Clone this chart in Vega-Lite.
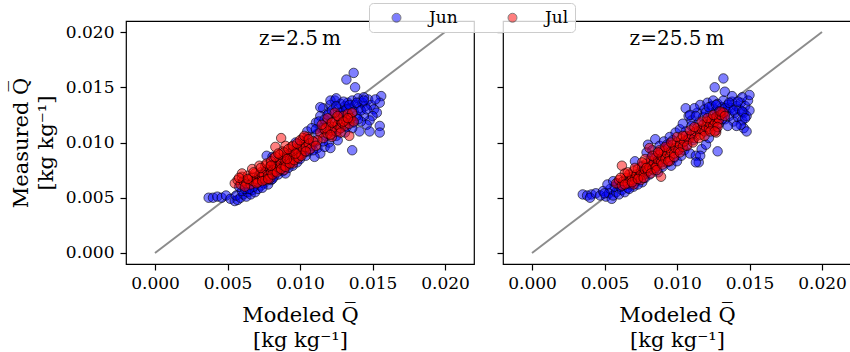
{
  "$schema": "https://vega.github.io/schema/vega-lite/v6.json",
  "padding": {"left": 9, "top": 2, "right": 0, "bottom": 0},
  "background": "white",
  "config": {
    "font": "DejaVu Serif",
    "view": {"stroke": "black", "strokeWidth": 1.2},
    "axis": {
      "grid": false, "domain": false, "tickColor": "black", "tickSize": 6, "tickWidth": 1.2,
      "labelFont": "DejaVu Serif", "labelFontSize": 17, "labelColor": "black",
      "titleFont": "DejaVu Serif", "titleFontSize": 21, "titleFontWeight": "normal", "titleColor": "black",
      "titleLineHeight": 25
    }
  },
  "datasets": {
    "pts": [
      {"p":"a","m":"Jun","x":0.0037,"y":0.0050},{"p":"a","m":"Jun","x":0.0040,"y":0.0050},{"p":"a","m":"Jun","x":0.0043,"y":0.0051},{"p":"a","m":"Jun","x":0.0046,"y":0.0050},{"p":"a","m":"Jun","x":0.0049,"y":0.0052},{"p":"a","m":"Jun","x":0.0052,"y":0.0049},{"p":"a","m":"Jun","x":0.0055,"y":0.0047},{"p":"a","m":"Jun","x":0.0057,"y":0.0048},{"p":"a","m":"Jun","x":0.0056,"y":0.0052},{"p":"a","m":"Jun","x":0.0059,"y":0.0050},{"p":"a","m":"Jun","x":0.0061,"y":0.0053},{"p":"a","m":"Jun","x":0.0063,"y":0.0051},{"p":"a","m":"Jun","x":0.0060,"y":0.0056},{"p":"a","m":"Jun","x":0.0064,"y":0.0055},{"p":"a","m":"Jun","x":0.0066,"y":0.0053},{"p":"a","m":"Jun","x":0.0058,"y":0.0060},{"p":"a","m":"Jun","x":0.0062,"y":0.0058},{"p":"a","m":"Jun","x":0.0067,"y":0.0057},{"p":"a","m":"Jun","x":0.0069,"y":0.0055},{"p":"a","m":"Jun","x":0.0071,"y":0.0058},
      {"p":"a","m":"Jun","x":0.0073,"y":0.0061},{"p":"a","m":"Jun","x":0.0075,"y":0.0063},{"p":"a","m":"Jun","x":0.0078,"y":0.0062},{"p":"a","m":"Jun","x":0.0080,"y":0.0066},{"p":"a","m":"Jun","x":0.0082,"y":0.0069},{"p":"a","m":"Jun","x":0.0079,"y":0.0071},{"p":"a","m":"Jun","x":0.0085,"y":0.0071},{"p":"a","m":"Jun","x":0.0088,"y":0.0074},{"p":"a","m":"Jun","x":0.0090,"y":0.0072},{"p":"a","m":"Jun","x":0.0087,"y":0.0078},{"p":"a","m":"Jun","x":0.0092,"y":0.0077},{"p":"a","m":"Jun","x":0.0095,"y":0.0079},{"p":"a","m":"Jun","x":0.0098,"y":0.0082},{"p":"a","m":"Jun","x":0.0094,"y":0.0084},{"p":"a","m":"Jun","x":0.0100,"y":0.0085},{"p":"a","m":"Jun","x":0.0076,"y":0.0074},{"p":"a","m":"Jun","x":0.0072,"y":0.0068},{"p":"a","m":"Jun","x":0.0083,"y":0.0080},{"p":"a","m":"Jun","x":0.0089,"y":0.0086},{"p":"a","m":"Jun","x":0.0097,"y":0.0092},{"p":"a","m":"Jun","x":0.0093,"y":0.0090},{"p":"a","m":"Jun","x":0.0102,"y":0.0095},{"p":"a","m":"Jun","x":0.0104,"y":0.0088},{"p":"a","m":"Jun","x":0.0106,"y":0.0092},{"p":"a","m":"Jun","x":0.0101,"y":0.0101},{"p":"a","m":"Jun","x":0.0108,"y":0.0097},{"p":"a","m":"Jun","x":0.0105,"y":0.0103},{"p":"a","m":"Jun","x":0.0097,"y":0.0100},{"p":"a","m":"Jun","x":0.0077,"y":0.0088},{"p":"a","m":"Jun","x":0.0081,"y":0.0087},
      {"p":"a","m":"Jun","x":0.0110,"y":0.0100},{"p":"a","m":"Jun","x":0.0112,"y":0.0095},{"p":"a","m":"Jun","x":0.0114,"y":0.0090},{"p":"a","m":"Jun","x":0.0110,"y":0.0087},{"p":"a","m":"Jun","x":0.0117,"y":0.0096},{"p":"a","m":"Jun","x":0.0120,"y":0.0100},{"p":"a","m":"Jun","x":0.0118,"y":0.0106},{"p":"a","m":"Jun","x":0.0112,"y":0.0108},{"p":"a","m":"Jun","x":0.0115,"y":0.0113},{"p":"a","m":"Jun","x":0.0111,"y":0.0118},{"p":"a","m":"Jun","x":0.0114,"y":0.0124},{"p":"a","m":"Jun","x":0.0116,"y":0.0131},{"p":"a","m":"Jun","x":0.0120,"y":0.0127},{"p":"a","m":"Jun","x":0.0121,"y":0.0134},{"p":"a","m":"Jun","x":0.0124,"y":0.0138},{"p":"a","m":"Jun","x":0.0126,"y":0.0130},{"p":"a","m":"Jun","x":0.0128,"y":0.0135},{"p":"a","m":"Jun","x":0.0130,"y":0.0128},{"p":"a","m":"Jun","x":0.0131,"y":0.0133},{"p":"a","m":"Jun","x":0.0133,"y":0.0136},{"p":"a","m":"Jun","x":0.0135,"y":0.0131},{"p":"a","m":"Jun","x":0.0136,"y":0.0138},{"p":"a","m":"Jun","x":0.0138,"y":0.0134},{"p":"a","m":"Jun","x":0.0140,"y":0.0140},{"p":"a","m":"Jun","x":0.0141,"y":0.0131},{"p":"a","m":"Jun","x":0.0143,"y":0.0136},{"p":"a","m":"Jun","x":0.0145,"y":0.0133},{"p":"a","m":"Jun","x":0.0147,"y":0.0139},{"p":"a","m":"Jun","x":0.0149,"y":0.0134},{"p":"a","m":"Jun","x":0.0151,"y":0.0130},{"p":"a","m":"Jun","x":0.0153,"y":0.0127},{"p":"a","m":"Jun","x":0.0150,"y":0.0124},{"p":"a","m":"Jun","x":0.0148,"y":0.0120},{"p":"a","m":"Jun","x":0.0144,"y":0.0124},{"p":"a","m":"Jun","x":0.0146,"y":0.0116},{"p":"a","m":"Jun","x":0.0142,"y":0.0119},{"p":"a","m":"Jun","x":0.0139,"y":0.0124},{"p":"a","m":"Jun","x":0.0137,"y":0.0118},{"p":"a","m":"Jun","x":0.0134,"y":0.0122},{"p":"a","m":"Jun","x":0.0132,"y":0.0114},{"p":"a","m":"Jun","x":0.0129,"y":0.0118},{"p":"a","m":"Jun","x":0.0127,"y":0.0112},{"p":"a","m":"Jun","x":0.0125,"y":0.0106},{"p":"a","m":"Jun","x":0.0122,"y":0.0110},{"p":"a","m":"Jun","x":0.0123,"y":0.0119},{"p":"a","m":"Jun","x":0.0127,"y":0.0124},{"p":"a","m":"Jun","x":0.0118,"y":0.0118},
      {"p":"a","m":"Jun","x":0.0137,"y":0.0163},{"p":"a","m":"Jun","x":0.0132,"y":0.0157},{"p":"a","m":"Jun","x":0.0138,"y":0.0150},{"p":"a","m":"Jun","x":0.0136,"y":0.0093},{"p":"a","m":"Jun","x":0.0156,"y":0.0142},{"p":"a","m":"Jun","x":0.0155,"y":0.0136},{"p":"a","m":"Jun","x":0.0155,"y":0.0115},{"p":"a","m":"Jun","x":0.0155,"y":0.0109},{"p":"a","m":"Jun","x":0.0148,"y":0.0110},{"p":"a","m":"Jun","x":0.0141,"y":0.0110},{"p":"a","m":"Jun","x":0.0114,"y":0.0132},{"p":"a","m":"Jun","x":0.0121,"y":0.0138},{"p":"a","m":"Jun","x":0.0125,"y":0.0140},{"p":"a","m":"Jun","x":0.0144,"y":0.0141},{"p":"a","m":"Jun","x":0.0152,"y":0.0139},
      {"p":"a","m":"Jun","x":0.0105,"y":0.0110},{"p":"a","m":"Jun","x":0.0108,"y":0.0113},{"p":"a","m":"Jun","x":0.0111,"y":0.0112},{"p":"a","m":"Jun","x":0.0113,"y":0.0119},{"p":"a","m":"Jun","x":0.0117,"y":0.0121},{"p":"a","m":"Jun","x":0.0119,"y":0.0125},{"p":"a","m":"Jun","x":0.0122,"y":0.0129},{"p":"a","m":"Jun","x":0.0125,"y":0.0133},{"p":"a","m":"Jun","x":0.0128,"y":0.0127},{"p":"a","m":"Jun","x":0.0130,"y":0.0137},{"p":"a","m":"Jun","x":0.0132,"y":0.0130},{"p":"a","m":"Jun","x":0.0134,"y":0.0134},{"p":"a","m":"Jun","x":0.0137,"y":0.0128},{"p":"a","m":"Jun","x":0.0139,"y":0.0136},{"p":"a","m":"Jun","x":0.0142,"y":0.0129},{"p":"a","m":"Jun","x":0.0144,"y":0.0138},{"p":"a","m":"Jun","x":0.0146,"y":0.0130},{"p":"a","m":"Jun","x":0.0140,"y":0.0121},{"p":"a","m":"Jun","x":0.0136,"y":0.0113},{"p":"a","m":"Jun","x":0.0131,"y":0.0109},{"p":"a","m":"Jun","x":0.0126,"y":0.0102},{"p":"a","m":"Jun","x":0.0121,"y":0.0095},{"p":"a","m":"Jun","x":0.0116,"y":0.0101},{"p":"a","m":"Jun","x":0.0109,"y":0.0093},{"p":"a","m":"Jun","x":0.0103,"y":0.0091},{"p":"a","m":"Jun","x":0.0099,"y":0.0088},{"p":"a","m":"Jun","x":0.0091,"y":0.0080},{"p":"a","m":"Jun","x":0.0086,"y":0.0075},{"p":"a","m":"Jun","x":0.0081,"y":0.0067},{"p":"a","m":"Jun","x":0.0074,"y":0.0059},{"p":"a","m":"Jun","x":0.0068,"y":0.0060},{"p":"a","m":"Jun","x":0.0065,"y":0.0058},
      {"p":"b","m":"Jun","x":0.0035,"y":0.0053},{"p":"b","m":"Jun","x":0.0038,"y":0.0052},{"p":"b","m":"Jun","x":0.0041,"y":0.0053},{"p":"b","m":"Jun","x":0.0040,"y":0.0050},{"p":"b","m":"Jun","x":0.0044,"y":0.0054},{"p":"b","m":"Jun","x":0.0047,"y":0.0052},{"p":"b","m":"Jun","x":0.0049,"y":0.0056},{"p":"b","m":"Jun","x":0.0051,"y":0.0051},{"p":"b","m":"Jun","x":0.0053,"y":0.0054},{"p":"b","m":"Jun","x":0.0055,"y":0.0049},{"p":"b","m":"Jun","x":0.0056,"y":0.0052},{"p":"b","m":"Jun","x":0.0054,"y":0.0058},{"p":"b","m":"Jun","x":0.0058,"y":0.0055},{"p":"b","m":"Jun","x":0.0057,"y":0.0060},{"p":"b","m":"Jun","x":0.0060,"y":0.0053},{"p":"b","m":"Jun","x":0.0062,"y":0.0057},{"p":"b","m":"Jun","x":0.0059,"y":0.0063},{"p":"b","m":"Jun","x":0.0064,"y":0.0055},{"p":"b","m":"Jun","x":0.0066,"y":0.0059},{"p":"b","m":"Jun","x":0.0063,"y":0.0062},{"p":"b","m":"Jun","x":0.0068,"y":0.0062},{"p":"b","m":"Jun","x":0.0052,"y":0.0062},{"p":"b","m":"Jun","x":0.0056,"y":0.0065},
      {"p":"b","m":"Jun","x":0.0070,"y":0.0060},{"p":"b","m":"Jun","x":0.0072,"y":0.0065},{"p":"b","m":"Jun","x":0.0071,"y":0.0083},{"p":"b","m":"Jun","x":0.0074,"y":0.0070},{"p":"b","m":"Jun","x":0.0076,"y":0.0064},{"p":"b","m":"Jun","x":0.0078,"y":0.0068},{"p":"b","m":"Jun","x":0.0080,"y":0.0098},{"p":"b","m":"Jun","x":0.0081,"y":0.0071},{"p":"b","m":"Jun","x":0.0083,"y":0.0093},{"p":"b","m":"Jun","x":0.0085,"y":0.0103},{"p":"b","m":"Jun","x":0.0084,"y":0.0075},{"p":"b","m":"Jun","x":0.0087,"y":0.0073},{"p":"b","m":"Jun","x":0.0088,"y":0.0097},{"p":"b","m":"Jun","x":0.0090,"y":0.0078},{"p":"b","m":"Jun","x":0.0091,"y":0.0101},{"p":"b","m":"Jun","x":0.0093,"y":0.0082},{"p":"b","m":"Jun","x":0.0095,"y":0.0105},{"p":"b","m":"Jun","x":0.0096,"y":0.0079},{"p":"b","m":"Jun","x":0.0098,"y":0.0086},{"p":"b","m":"Jun","x":0.0099,"y":0.0109},{"p":"b","m":"Jun","x":0.0100,"y":0.0083},{"p":"b","m":"Jun","x":0.0102,"y":0.0112},{"p":"b","m":"Jun","x":0.0103,"y":0.0088},{"p":"b","m":"Jun","x":0.0105,"y":0.0093},{"p":"b","m":"Jun","x":0.0104,"y":0.0117},{"p":"b","m":"Jun","x":0.0106,"y":0.0131},{"p":"b","m":"Jun","x":0.0108,"y":0.0124},{"p":"b","m":"Jun","x":0.0107,"y":0.0098},{"p":"b","m":"Jun","x":0.0110,"y":0.0120},{"p":"b","m":"Jun","x":0.0109,"y":0.0090},{"p":"b","m":"Jun","x":0.0111,"y":0.0102},{"p":"b","m":"Jun","x":0.0113,"y":0.0088},{"p":"b","m":"Jun","x":0.0115,"y":0.0082},{"p":"b","m":"Jun","x":0.0114,"y":0.0127},{"p":"b","m":"Jun","x":0.0116,"y":0.0134},{"p":"b","m":"Jun","x":0.0117,"y":0.0094},{"p":"b","m":"Jun","x":0.0118,"y":0.0123},{"p":"b","m":"Jun","x":0.0120,"y":0.0098},{"p":"b","m":"Jun","x":0.0119,"y":0.0130},{"p":"b","m":"Jun","x":0.0121,"y":0.0136},{"p":"b","m":"Jun","x":0.0122,"y":0.0104},{"p":"b","m":"Jun","x":0.0076,"y":0.0079},{"p":"b","m":"Jun","x":0.0082,"y":0.0086},{"p":"b","m":"Jun","x":0.0089,"y":0.0092},{"p":"b","m":"Jun","x":0.0094,"y":0.0097},{"p":"b","m":"Jun","x":0.0079,"y":0.0091},{"p":"b","m":"Jun","x":0.0086,"y":0.0088},
      {"p":"b","m":"Jun","x":0.0123,"y":0.0127},{"p":"b","m":"Jun","x":0.0124,"y":0.0133},{"p":"b","m":"Jun","x":0.0125,"y":0.0138},{"p":"b","m":"Jun","x":0.0126,"y":0.0122},{"p":"b","m":"Jun","x":0.0127,"y":0.0129},{"p":"b","m":"Jun","x":0.0128,"y":0.0135},{"p":"b","m":"Jun","x":0.0129,"y":0.0117},{"p":"b","m":"Jun","x":0.0130,"y":0.0125},{"p":"b","m":"Jun","x":0.0131,"y":0.0132},{"p":"b","m":"Jun","x":0.0132,"y":0.0138},{"p":"b","m":"Jun","x":0.0133,"y":0.0121},{"p":"b","m":"Jun","x":0.0134,"y":0.0128},{"p":"b","m":"Jun","x":0.0135,"y":0.0134},{"p":"b","m":"Jun","x":0.0136,"y":0.0124},{"p":"b","m":"Jun","x":0.0137,"y":0.0131},{"p":"b","m":"Jun","x":0.0138,"y":0.0137},{"p":"b","m":"Jun","x":0.0139,"y":0.0119},{"p":"b","m":"Jun","x":0.0140,"y":0.0127},{"p":"b","m":"Jun","x":0.0141,"y":0.0133},{"p":"b","m":"Jun","x":0.0142,"y":0.0123},{"p":"b","m":"Jun","x":0.0143,"y":0.0130},{"p":"b","m":"Jun","x":0.0144,"y":0.0136},{"p":"b","m":"Jun","x":0.0145,"y":0.0120},{"p":"b","m":"Jun","x":0.0146,"y":0.0127},{"p":"b","m":"Jun","x":0.0147,"y":0.0133},{"p":"b","m":"Jun","x":0.0148,"y":0.0124},{"p":"b","m":"Jun","x":0.0149,"y":0.0138},{"p":"b","m":"Jun","x":0.0150,"y":0.0129},{"p":"b","m":"Jun","x":0.0146,"y":0.0113},{"p":"b","m":"Jun","x":0.0148,"y":0.0110},{"p":"b","m":"Jun","x":0.0144,"y":0.0116},{"p":"b","m":"Jun","x":0.0141,"y":0.0115},{"p":"b","m":"Jun","x":0.0128,"y":0.0092},{"p":"b","m":"Jun","x":0.0132,"y":0.0158},{"p":"b","m":"Jun","x":0.0126,"y":0.0150},{"p":"b","m":"Jun","x":0.0133,"y":0.0146},{"p":"b","m":"Jun","x":0.0150,"y":0.0143},{"p":"b","m":"Jun","x":0.0145,"y":0.0141},{"p":"b","m":"Jun","x":0.0116,"y":0.0088},{"p":"b","m":"Jun","x":0.0113,"y":0.0082},{"p":"b","m":"Jun","x":0.0127,"y":0.0111},{"p":"b","m":"Jun","x":0.0135,"y":0.0115},{"p":"b","m":"Jun","x":0.0138,"y":0.0142},{"p":"b","m":"Jun","x":0.0112,"y":0.0131},{"p":"b","m":"Jun","x":0.0109,"y":0.0125},
      {"p":"b","m":"Jun","x":0.0100,"y":0.0093},{"p":"b","m":"Jun","x":0.0104,"y":0.0100},{"p":"b","m":"Jun","x":0.0108,"y":0.0105},{"p":"b","m":"Jun","x":0.0112,"y":0.0109},{"p":"b","m":"Jun","x":0.0115,"y":0.0118},{"p":"b","m":"Jun","x":0.0118,"y":0.0111},{"p":"b","m":"Jun","x":0.0120,"y":0.0127},{"p":"b","m":"Jun","x":0.0122,"y":0.0132},{"p":"b","m":"Jun","x":0.0124,"y":0.0118},{"p":"b","m":"Jun","x":0.0127,"y":0.0134},{"p":"b","m":"Jun","x":0.0129,"y":0.0128},{"p":"b","m":"Jun","x":0.0131,"y":0.0121},{"p":"b","m":"Jun","x":0.0133,"y":0.0131},{"p":"b","m":"Jun","x":0.0136,"y":0.0136},{"p":"b","m":"Jun","x":0.0139,"y":0.0129},{"p":"b","m":"Jun","x":0.0142,"y":0.0137},{"p":"b","m":"Jun","x":0.0145,"y":0.0128},{"p":"b","m":"Jun","x":0.0147,"y":0.0122},{"p":"b","m":"Jun","x":0.0113,"y":0.0124},{"p":"b","m":"Jun","x":0.0110,"y":0.0115},{"p":"b","m":"Jun","x":0.0106,"y":0.0110},{"p":"b","m":"Jun","x":0.0097,"y":0.0102},{"p":"b","m":"Jun","x":0.0093,"y":0.0098},{"p":"b","m":"Jun","x":0.0087,"y":0.0081},{"p":"b","m":"Jun","x":0.0083,"y":0.0079},{"p":"b","m":"Jun","x":0.0079,"y":0.0073},{"p":"b","m":"Jun","x":0.0073,"y":0.0062},{"p":"b","m":"Jun","x":0.0067,"y":0.0058},{"p":"b","m":"Jun","x":0.0061,"y":0.0060},{"p":"b","m":"Jun","x":0.0050,"y":0.0054},
      {"p":"a","m":"Jul","x":0.0055,"y":0.0063},{"p":"a","m":"Jul","x":0.0057,"y":0.0066},{"p":"a","m":"Jul","x":0.0059,"y":0.0062},{"p":"a","m":"Jul","x":0.0061,"y":0.0065},{"p":"a","m":"Jul","x":0.0060,"y":0.0069},{"p":"a","m":"Jul","x":0.0063,"y":0.0063},{"p":"a","m":"Jul","x":0.0065,"y":0.0066},{"p":"a","m":"Jul","x":0.0064,"y":0.0070},{"p":"a","m":"Jul","x":0.0066,"y":0.0062},{"p":"a","m":"Jul","x":0.0068,"y":0.0065},{"p":"a","m":"Jul","x":0.0067,"y":0.0069},{"p":"a","m":"Jul","x":0.0070,"y":0.0067},{"p":"a","m":"Jul","x":0.0069,"y":0.0072},{"p":"a","m":"Jul","x":0.0072,"y":0.0070},{"p":"a","m":"Jul","x":0.0071,"y":0.0064},{"p":"a","m":"Jul","x":0.0074,"y":0.0068},{"p":"a","m":"Jul","x":0.0073,"y":0.0073},{"p":"a","m":"Jul","x":0.0075,"y":0.0071},{"p":"a","m":"Jul","x":0.0076,"y":0.0066},{"p":"a","m":"Jul","x":0.0077,"y":0.0075},{"p":"a","m":"Jul","x":0.0078,"y":0.0070},{"p":"a","m":"Jul","x":0.0079,"y":0.0078},{"p":"a","m":"Jul","x":0.0080,"y":0.0073},{"p":"a","m":"Jul","x":0.0081,"y":0.0076},{"p":"a","m":"Jul","x":0.0082,"y":0.0080},{"p":"a","m":"Jul","x":0.0083,"y":0.0074},{"p":"a","m":"Jul","x":0.0084,"y":0.0078},{"p":"a","m":"Jul","x":0.0085,"y":0.0083},{"p":"a","m":"Jul","x":0.0086,"y":0.0077},{"p":"a","m":"Jul","x":0.0087,"y":0.0081},{"p":"a","m":"Jul","x":0.0088,"y":0.0086},{"p":"a","m":"Jul","x":0.0089,"y":0.0079},{"p":"a","m":"Jul","x":0.0090,"y":0.0083},{"p":"a","m":"Jul","x":0.0091,"y":0.0088},{"p":"a","m":"Jul","x":0.0092,"y":0.0082},{"p":"a","m":"Jul","x":0.0093,"y":0.0086},{"p":"a","m":"Jul","x":0.0094,"y":0.0091},{"p":"a","m":"Jul","x":0.0095,"y":0.0085},{"p":"a","m":"Jul","x":0.0096,"y":0.0089},{"p":"a","m":"Jul","x":0.0097,"y":0.0094},{"p":"a","m":"Jul","x":0.0098,"y":0.0087},{"p":"a","m":"Jul","x":0.0099,"y":0.0092},{"p":"a","m":"Jul","x":0.0100,"y":0.0097},{"p":"a","m":"Jul","x":0.0101,"y":0.0090},{"p":"a","m":"Jul","x":0.0102,"y":0.0094},{"p":"a","m":"Jul","x":0.0103,"y":0.0100},{"p":"a","m":"Jul","x":0.0104,"y":0.0096},{"p":"a","m":"Jul","x":0.0105,"y":0.0105},{"p":"a","m":"Jul","x":0.0106,"y":0.0099},{"p":"a","m":"Jul","x":0.0107,"y":0.0094},{"p":"a","m":"Jul","x":0.0102,"y":0.0104},{"p":"a","m":"Jul","x":0.0094,"y":0.0096},{"p":"a","m":"Jul","x":0.0088,"y":0.0092},{"p":"a","m":"Jul","x":0.0082,"y":0.0086},{"p":"a","m":"Jul","x":0.0076,"y":0.0079},{"p":"a","m":"Jul","x":0.0087,"y":0.0104},{"p":"a","m":"Jul","x":0.0083,"y":0.0096},{"p":"a","m":"Jul","x":0.0067,"y":0.0076},{"p":"a","m":"Jul","x":0.0072,"y":0.0079},{"p":"a","m":"Jul","x":0.0060,"y":0.0072},{"p":"a","m":"Jul","x":0.0090,"y":0.0097},{"p":"a","m":"Jul","x":0.0089,"y":0.0075},{"p":"a","m":"Jul","x":0.0079,"y":0.0067},{"p":"a","m":"Jul","x":0.0095,"y":0.0081},
      {"p":"a","m":"Jul","x":0.0114,"y":0.0109},{"p":"a","m":"Jul","x":0.0116,"y":0.0104},{"p":"a","m":"Jul","x":0.0117,"y":0.0112},{"p":"a","m":"Jul","x":0.0119,"y":0.0108},{"p":"a","m":"Jul","x":0.0120,"y":0.0116},{"p":"a","m":"Jul","x":0.0121,"y":0.0111},{"p":"a","m":"Jul","x":0.0122,"y":0.0105},{"p":"a","m":"Jul","x":0.0123,"y":0.0114},{"p":"a","m":"Jul","x":0.0124,"y":0.0119},{"p":"a","m":"Jul","x":0.0125,"y":0.0110},{"p":"a","m":"Jul","x":0.0126,"y":0.0116},{"p":"a","m":"Jul","x":0.0127,"y":0.0121},{"p":"a","m":"Jul","x":0.0128,"y":0.0113},{"p":"a","m":"Jul","x":0.0129,"y":0.0118},{"p":"a","m":"Jul","x":0.0130,"y":0.0124},{"p":"a","m":"Jul","x":0.0131,"y":0.0115},{"p":"a","m":"Jul","x":0.0132,"y":0.0120},{"p":"a","m":"Jul","x":0.0133,"y":0.0126},{"p":"a","m":"Jul","x":0.0134,"y":0.0117},{"p":"a","m":"Jul","x":0.0135,"y":0.0122},{"p":"a","m":"Jul","x":0.0136,"y":0.0127},{"p":"a","m":"Jul","x":0.0137,"y":0.0119},{"p":"a","m":"Jul","x":0.0134,"y":0.0106},{"p":"a","m":"Jul","x":0.0119,"y":0.0122},{"p":"a","m":"Jul","x":0.0124,"y":0.0127},{"p":"a","m":"Jul","x":0.0112,"y":0.0102},{"p":"a","m":"Jul","x":0.0109,"y":0.0101},{"p":"a","m":"Jul","x":0.0111,"y":0.0097},
      {"p":"a","m":"Jul","x":0.0058,"y":0.0068},{"p":"a","m":"Jul","x":0.0062,"y":0.0060},{"p":"a","m":"Jul","x":0.0064,"y":0.0067},{"p":"a","m":"Jul","x":0.0068,"y":0.0073},{"p":"a","m":"Jul","x":0.0070,"y":0.0063},{"p":"a","m":"Jul","x":0.0073,"y":0.0077},{"p":"a","m":"Jul","x":0.0074,"y":0.0065},{"p":"a","m":"Jul","x":0.0077,"y":0.0081},{"p":"a","m":"Jul","x":0.0078,"y":0.0067},{"p":"a","m":"Jul","x":0.0080,"y":0.0083},{"p":"a","m":"Jul","x":0.0081,"y":0.0071},{"p":"a","m":"Jul","x":0.0083,"y":0.0087},{"p":"a","m":"Jul","x":0.0084,"y":0.0073},{"p":"a","m":"Jul","x":0.0086,"y":0.0089},{"p":"a","m":"Jul","x":0.0087,"y":0.0076},{"p":"a","m":"Jul","x":0.0089,"y":0.0091},{"p":"a","m":"Jul","x":0.0090,"y":0.0078},{"p":"a","m":"Jul","x":0.0092,"y":0.0094},{"p":"a","m":"Jul","x":0.0093,"y":0.0081},{"p":"a","m":"Jul","x":0.0095,"y":0.0097},{"p":"a","m":"Jul","x":0.0096,"y":0.0084},{"p":"a","m":"Jul","x":0.0098,"y":0.0099},{"p":"a","m":"Jul","x":0.0099,"y":0.0086},{"p":"a","m":"Jul","x":0.0100,"y":0.0102},{"p":"a","m":"Jul","x":0.0101,"y":0.0088},{"p":"a","m":"Jul","x":0.0103,"y":0.0106},{"p":"a","m":"Jul","x":0.0104,"y":0.0092},{"p":"a","m":"Jul","x":0.0106,"y":0.0103},{"p":"a","m":"Jul","x":0.0085,"y":0.0090},{"p":"a","m":"Jul","x":0.0091,"y":0.0085},{"p":"a","m":"Jul","x":0.0097,"y":0.0090},{"p":"a","m":"Jul","x":0.0080,"y":0.0079},{"p":"a","m":"Jul","x":0.0118,"y":0.0113},{"p":"a","m":"Jul","x":0.0122,"y":0.0118},{"p":"a","m":"Jul","x":0.0126,"y":0.0124},{"p":"a","m":"Jul","x":0.0130,"y":0.0119},{"p":"a","m":"Jul","x":0.0133,"y":0.0122},{"p":"a","m":"Jul","x":0.0128,"y":0.0109},{"p":"a","m":"Jul","x":0.0115,"y":0.0116},{"p":"a","m":"Jul","x":0.0121,"y":0.0107},
      {"p":"b","m":"Jul","x":0.0058,"y":0.0063},{"p":"b","m":"Jul","x":0.0060,"y":0.0066},{"p":"b","m":"Jul","x":0.0062,"y":0.0061},{"p":"b","m":"Jul","x":0.0062,"y":0.0079},{"p":"b","m":"Jul","x":0.0063,"y":0.0065},{"p":"b","m":"Jul","x":0.0065,"y":0.0068},{"p":"b","m":"Jul","x":0.0066,"y":0.0063},{"p":"b","m":"Jul","x":0.0067,"y":0.0071},{"p":"b","m":"Jul","x":0.0068,"y":0.0066},{"p":"b","m":"Jul","x":0.0069,"y":0.0069},{"p":"b","m":"Jul","x":0.0070,"y":0.0074},{"p":"b","m":"Jul","x":0.0071,"y":0.0067},{"p":"b","m":"Jul","x":0.0072,"y":0.0071},{"p":"b","m":"Jul","x":0.0073,"y":0.0076},{"p":"b","m":"Jul","x":0.0074,"y":0.0069},{"p":"b","m":"Jul","x":0.0075,"y":0.0073},{"p":"b","m":"Jul","x":0.0076,"y":0.0078},{"p":"b","m":"Jul","x":0.0077,"y":0.0071},{"p":"b","m":"Jul","x":0.0078,"y":0.0075},{"p":"b","m":"Jul","x":0.0079,"y":0.0081},{"p":"b","m":"Jul","x":0.0080,"y":0.0074},{"p":"b","m":"Jul","x":0.0081,"y":0.0095},{"p":"b","m":"Jul","x":0.0081,"y":0.0078},{"p":"b","m":"Jul","x":0.0082,"y":0.0083},{"p":"b","m":"Jul","x":0.0083,"y":0.0076},{"p":"b","m":"Jul","x":0.0084,"y":0.0081},{"p":"b","m":"Jul","x":0.0085,"y":0.0086},{"p":"b","m":"Jul","x":0.0086,"y":0.0079},{"p":"b","m":"Jul","x":0.0087,"y":0.0084},{"p":"b","m":"Jul","x":0.0088,"y":0.0089},{"p":"b","m":"Jul","x":0.0089,"y":0.0069},{"p":"b","m":"Jul","x":0.0089,"y":0.0082},{"p":"b","m":"Jul","x":0.0090,"y":0.0087},{"p":"b","m":"Jul","x":0.0091,"y":0.0092},{"p":"b","m":"Jul","x":0.0092,"y":0.0085},{"p":"b","m":"Jul","x":0.0093,"y":0.0090},{"p":"b","m":"Jul","x":0.0094,"y":0.0095},{"p":"b","m":"Jul","x":0.0095,"y":0.0087},{"p":"b","m":"Jul","x":0.0096,"y":0.0092},{"p":"b","m":"Jul","x":0.0097,"y":0.0098},{"p":"b","m":"Jul","x":0.0098,"y":0.0090},{"p":"b","m":"Jul","x":0.0099,"y":0.0095},{"p":"b","m":"Jul","x":0.0100,"y":0.0100},{"p":"b","m":"Jul","x":0.0101,"y":0.0093},{"p":"b","m":"Jul","x":0.0102,"y":0.0098},{"p":"b","m":"Jul","x":0.0103,"y":0.0103},{"p":"b","m":"Jul","x":0.0104,"y":0.0096},{"p":"b","m":"Jul","x":0.0105,"y":0.0101},{"p":"b","m":"Jul","x":0.0106,"y":0.0106},{"p":"b","m":"Jul","x":0.0108,"y":0.0103},{"p":"b","m":"Jul","x":0.0110,"y":0.0107},{"p":"b","m":"Jul","x":0.0112,"y":0.0104},{"p":"b","m":"Jul","x":0.0113,"y":0.0110},{"p":"b","m":"Jul","x":0.0114,"y":0.0113},{"p":"b","m":"Jul","x":0.0116,"y":0.0107},{"p":"b","m":"Jul","x":0.0117,"y":0.0112},{"p":"b","m":"Jul","x":0.0118,"y":0.0116},{"p":"b","m":"Jul","x":0.0119,"y":0.0110},{"p":"b","m":"Jul","x":0.0120,"y":0.0114},{"p":"b","m":"Jul","x":0.0121,"y":0.0119},{"p":"b","m":"Jul","x":0.0122,"y":0.0112},{"p":"b","m":"Jul","x":0.0123,"y":0.0117},{"p":"b","m":"Jul","x":0.0124,"y":0.0121},{"p":"b","m":"Jul","x":0.0125,"y":0.0115},{"p":"b","m":"Jul","x":0.0126,"y":0.0119},{"p":"b","m":"Jul","x":0.0127,"y":0.0123},{"p":"b","m":"Jul","x":0.0128,"y":0.0117},{"p":"b","m":"Jul","x":0.0129,"y":0.0121},{"p":"b","m":"Jul","x":0.0130,"y":0.0125},{"p":"b","m":"Jul","x":0.0132,"y":0.0127},{"p":"b","m":"Jul","x":0.0127,"y":0.0109},{"p":"b","m":"Jul","x":0.0070,"y":0.0062},{"p":"b","m":"Jul","x":0.0075,"y":0.0066},{"p":"b","m":"Jul","x":0.0085,"y":0.0077},{"p":"b","m":"Jul","x":0.0095,"y":0.0083},{"p":"b","m":"Jul","x":0.0064,"y":0.0072},{"p":"b","m":"Jul","x":0.0078,"y":0.0085},{"p":"b","m":"Jul","x":0.0088,"y":0.0093},
      {"p":"b","m":"Jul","x":0.0061,"y":0.0068},{"p":"b","m":"Jul","x":0.0064,"y":0.0062},{"p":"b","m":"Jul","x":0.0066,"y":0.0073},{"p":"b","m":"Jul","x":0.0069,"y":0.0064},{"p":"b","m":"Jul","x":0.0071,"y":0.0077},{"p":"b","m":"Jul","x":0.0073,"y":0.0067},{"p":"b","m":"Jul","x":0.0076,"y":0.0082},{"p":"b","m":"Jul","x":0.0077,"y":0.0068},{"p":"b","m":"Jul","x":0.0079,"y":0.0077},{"p":"b","m":"Jul","x":0.0082,"y":0.0072},{"p":"b","m":"Jul","x":0.0083,"y":0.0088},{"p":"b","m":"Jul","x":0.0086,"y":0.0075},{"p":"b","m":"Jul","x":0.0087,"y":0.0091},{"p":"b","m":"Jul","x":0.0090,"y":0.0080},{"p":"b","m":"Jul","x":0.0092,"y":0.0096},{"p":"b","m":"Jul","x":0.0094,"y":0.0083},{"p":"b","m":"Jul","x":0.0096,"y":0.0100},{"p":"b","m":"Jul","x":0.0098,"y":0.0087},{"p":"b","m":"Jul","x":0.0100,"y":0.0105},{"p":"b","m":"Jul","x":0.0102,"y":0.0091},{"p":"b","m":"Jul","x":0.0104,"y":0.0106},{"p":"b","m":"Jul","x":0.0107,"y":0.0097},{"p":"b","m":"Jul","x":0.0109,"y":0.0111},{"p":"b","m":"Jul","x":0.0111,"y":0.0100},{"p":"b","m":"Jul","x":0.0112,"y":0.0114},{"p":"b","m":"Jul","x":0.0115,"y":0.0104},{"p":"b","m":"Jul","x":0.0117,"y":0.0119},{"p":"b","m":"Jul","x":0.0119,"y":0.0106},{"p":"b","m":"Jul","x":0.0121,"y":0.0122},{"p":"b","m":"Jul","x":0.0123,"y":0.0110},{"p":"b","m":"Jul","x":0.0125,"y":0.0125},{"p":"b","m":"Jul","x":0.0128,"y":0.0114},{"p":"b","m":"Jul","x":0.0130,"y":0.0128},{"p":"b","m":"Jul","x":0.0126,"y":0.0110},{"p":"b","m":"Jul","x":0.0133,"y":0.0124}
    ],
    "oneToOne": [{"x": 0, "y": 0}, {"x": 0.02, "y": 0.02}],
    "labels": [{"p": "a", "t": "z=2.5\u2009m", "x": 0.01, "y": 0.0188}, {"p": "b", "t": "z=25.5\u2009m", "x": 0.01, "y": 0.0188}]
  },
  "hconcat": [
    {
      "width": 348, "height": 243,
      "layer": [
        {
          "data": {"name": "oneToOne"},
          "mark": {"type": "line", "color": "#8c8c8c", "strokeWidth": 2},
          "encoding": {
            "x": {"field": "x", "type": "quantitative", "scale": {"domain": [-0.002, 0.022], "nice": false, "zero": false},
                  "axis": {"values": [0, 0.005, 0.01, 0.015, 0.02], "format": ".3f", "title": ["Modeled Q\u0305", "[kg kg\u207b\u00b9]"], "labelPadding": 5, "titlePadding": 13}},
            "y": {"field": "y", "type": "quantitative", "scale": {"domain": [-0.001, 0.021], "nice": false, "zero": false},
                  "axis": {"values": [0, 0.005, 0.01, 0.015, 0.02], "format": ".3f", "title": ["Measured Q\u0305", "[kg kg\u207b\u00b9]"], "labelPadding": 6, "titlePadding": 9}}
          }
        },
        {
          "data": {"name": "pts"},
          "transform": [{"filter": "datum.p === 'a'"}],
          "mark": {"type": "circle", "size": 90, "fillOpacity": 0.5, "strokeOpacity": 0.6, "stroke": "black", "strokeWidth": 1},
          "encoding": {
            "x": {"field": "x", "type": "quantitative"},
            "y": {"field": "y", "type": "quantitative"},
            "color": {"field": "m", "type": "nominal", "scale": {"domain": ["Jun", "Jul"], "range": ["#0000ff", "#ff0000"]},
              "legend": {"title": null, "orient": "none", "legendX": 243, "legendY": -18, "direction": "horizontal", "columns": 2,
                "fillColor": "rgba(255,255,255,0.8)", "strokeColor": "#cccccc", "cornerRadius": 4, "padding": 6,
                "symbolType": "circle", "symbolSize": 80, "symbolOpacity": 0.5, "symbolStrokeColor": "black", "symbolStrokeWidth": 1,
                "symbolOffset": 13, "labelOffset": 24, "columnPadding": 33, "labelFont": "DejaVu Serif", "labelFontSize": 17, "labelColor": "black"}}
          }
        },
        {
          "data": {"name": "labels"},
          "transform": [{"filter": "datum.p === 'a'"}],
          "mark": {"type": "text", "font": "DejaVu Serif", "fontSize": 20, "baseline": "alphabetic", "align": "center", "color": "black"},
          "encoding": {
            "x": {"field": "x", "type": "quantitative"},
            "y": {"field": "y", "type": "quantitative"},
            "text": {"field": "t"}
          }
        }
      ]
    },
    {
      "width": 348, "height": 243,
      "layer": [
        {
          "data": {"name": "oneToOne"},
          "mark": {"type": "line", "color": "#8c8c8c", "strokeWidth": 2},
          "encoding": {
            "x": {"field": "x", "type": "quantitative", "scale": {"domain": [-0.002, 0.022], "nice": false, "zero": false},
                  "axis": {"values": [0, 0.005, 0.01, 0.015, 0.02], "format": ".3f", "title": ["Modeled Q\u0305", "[kg kg\u207b\u00b9]"], "labelPadding": 5, "titlePadding": 13}},
            "y": {"field": "y", "type": "quantitative", "scale": {"domain": [-0.001, 0.021], "nice": false, "zero": false},
                  "axis": {"values": [0, 0.005, 0.01, 0.015, 0.02], "labels": false, "title": null}}
          }
        },
        {
          "data": {"name": "pts"},
          "transform": [{"filter": "datum.p === 'b'"}],
          "mark": {"type": "circle", "size": 90, "fillOpacity": 0.5, "strokeOpacity": 0.6, "stroke": "black", "strokeWidth": 1},
          "encoding": {
            "x": {"field": "x", "type": "quantitative"},
            "y": {"field": "y", "type": "quantitative"},
            "color": {"field": "m", "type": "nominal", "scale": {"domain": ["Jun", "Jul"], "range": ["#0000ff", "#ff0000"]}}
          }
        },
        {
          "data": {"name": "labels"},
          "transform": [{"filter": "datum.p === 'b'"}],
          "mark": {"type": "text", "font": "DejaVu Serif", "fontSize": 20, "baseline": "alphabetic", "align": "center", "color": "black"},
          "encoding": {
            "x": {"field": "x", "type": "quantitative"},
            "y": {"field": "y", "type": "quantitative"},
            "text": {"field": "t"}
          }
        }
      ]
    }
  ],
  "spacing": 29,
  "bounds": "flush"
}
